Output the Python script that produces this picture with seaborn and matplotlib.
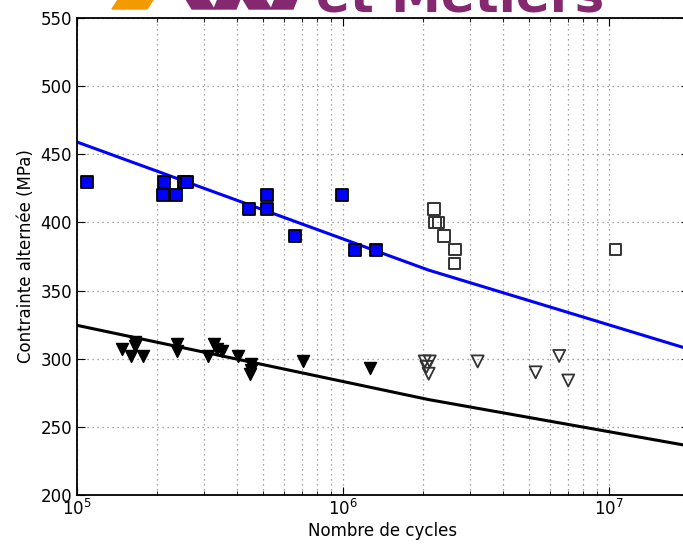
import numpy as np
import pandas as pd
import matplotlib
matplotlib.use("Agg")
import matplotlib.pyplot as plt
from matplotlib.patches import Polygon
import seaborn as sns

# essais rompus (carres pleins)
n_sq = [1.09e5, 2.12e5, 2.10e5, 2.36e5, 2.52e5, 2.60e5, 4.43e5, 5.18e5, 5.20e5,
        6.60e5, 9.90e5, 1.11e6, 1.33e6]
s_sq = [430, 430, 420, 420, 430, 430, 410, 410, 420, 390, 420, 380, 380]

# non rompus (carres vides)
n_sq_open = [2.20e6, 2.22e6, 2.29e6, 2.40e6, 2.64e6, 2.63e6, 1.057e7]
s_sq_open = [410, 400, 400, 390, 380, 370, 380]

# essais rompus (triangles pleins)
n_tri = [1.47e5, 1.65e5, 1.65e5, 1.60e5, 1.77e5, 2.37e5, 2.38e5, 3.10e5, 3.27e5,
         3.37e5, 3.52e5, 4.04e5, 4.51e5, 4.51e5, 4.47e5, 7.05e5, 1.26e6]
s_tri = [307, 312, 309, 302, 302, 311, 306, 302, 311, 307, 306, 302, 296, 292,
         289, 298, 293]

# non rompus (triangles vides)
n_tri_open = [2.03e6, 2.12e6, 2.06e6, 2.10e6, 3.21e6, 5.30e6, 6.50e6, 7.03e6]
s_tri_open = [298, 298, 294, 289, 298, 290, 302, 284]

# courbes
n_curve = [1e5, 2.1e6, 2e7]
s_curve_blue = [459, 365, 307]
s_curve_black = [324.5, 270, 236]

sns.set_style("ticks")
plt.rcParams["font.family"] = ["DejaVu Sans"]
plt.rcParams["font.size"] = 12
plt.rcParams["text.color"] = "black"
plt.rcParams["axes.labelcolor"] = "black"

fig = plt.figure(figsize=(6.83, 5.45), dpi=100)
W, H = 683, 545
ax = fig.add_axes([77 / W, 50 / H, 612 / W, 477 / H])

curves = pd.DataFrame({"N": n_curve * 2,
                       "S": s_curve_blue + s_curve_black,
                       "c": ["b"] * 3 + ["k"] * 3})
sns.lineplot(data=curves, x="N", y="S", hue="c", palette={"b": "#0000ff", "k": "black"},
             linewidth=2.2, legend=False, ax=ax, zorder=2)

sns.scatterplot(x=n_sq, y=s_sq, marker="s", s=68, color="#0000ff",
                edgecolor="black", linewidth=1.3, ax=ax, zorder=3)
sns.scatterplot(x=n_sq_open, y=s_sq_open, marker="s", s=68, facecolor="none",
                edgecolor="#333333", linewidth=1.4, ax=ax, zorder=3)
sns.scatterplot(x=n_tri, y=s_tri, marker="v", s=75, color="black",
                edgecolor="black", linewidth=1.0, ax=ax, zorder=3)
sns.scatterplot(x=n_tri_open, y=s_tri_open, marker="v", s=75, facecolor="none",
                edgecolor="#333333", linewidth=1.3, ax=ax, zorder=3)

ax.set_xscale("log")
ax.set_xlim(1e5, 2e7)
ax.set_ylim(200, 550)
ax.set_yticks(np.arange(200, 551, 50))
ax.grid(True, which="both", axis="x", linestyle=(0, (1, 3)), color="#888888", linewidth=0.9)
ax.grid(True, which="major", axis="y", linestyle=(0, (1, 3)), color="#888888", linewidth=0.9)
ax.tick_params(which="both", direction="in", top=True, right=True, labelsize=12,
               colors="black")
ax.tick_params(which="major", length=6)
ax.tick_params(which="minor", length=3)
ax.tick_params(axis="x", pad=3)
for sp in ax.spines.values():
    sp.set_linewidth(1.3)
    sp.set_color("black")
ax.set_xlabel("Nombre de cycles", fontsize=12, labelpad=2)
ax.set_ylabel("Contrainte alternée (MPa)", fontsize=12)

# logo (bas du logo seulement, coupe en haut)
fig.patches.append(Polygon([[112 / W, 1 - 9 / H], [147 / W, 1 - 9 / H], [160 / W, 1.02], [125 / W, 1.02]],
                           closed=True, transform=fig.transFigure, color="#f39a00", zorder=5))
for x0 in (180, 237):
    fig.patches.append(Polygon([[x0 / W, 1.02], [(x0 + 22) / W, 1.02], [(x0 + 34) / W, 1 - 9 / H],
                                [(x0 + 12) / W, 1 - 9 / H]],
                               closed=True, transform=fig.transFigure, color="#84286f", zorder=5))
    fig.patches.append(Polygon([[(x0 + 34) / W, 1 - 9 / H], [(x0 + 56) / W, 1 - 9 / H], [(x0 + 64) / W, 1.02],
                                [(x0 + 42) / W, 1.02]],
                               closed=True, transform=fig.transFigure, color="#84286f", zorder=5))
fig.text(316 / W, 1 - 11 / H, "et Métiers", fontsize=36, fontweight="bold",
         color="#84286f", ha="left", va="baseline")

fig.savefig("out.png", dpi=100)
